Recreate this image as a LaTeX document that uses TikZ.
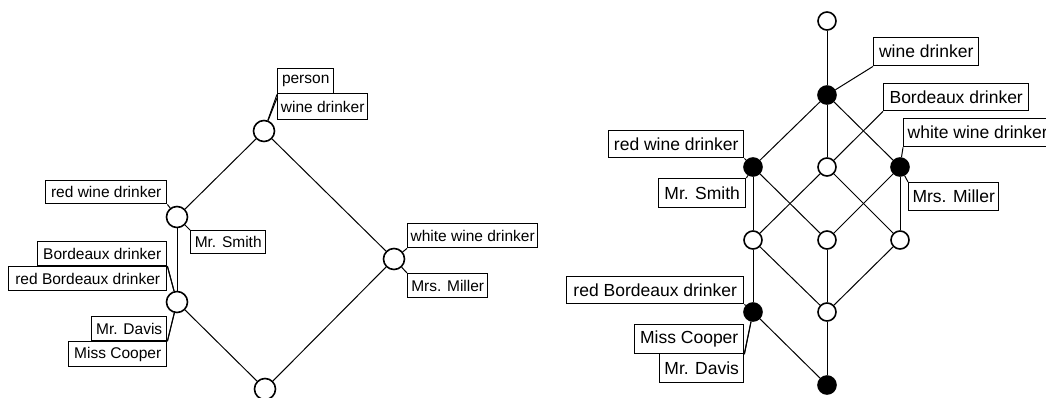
\documentclass[tikz,border=0pt]{standalone}
\usepackage{fontspec}
\setmainfont{Liberation Sans}
\begin{document}
\begin{tikzpicture}[x=1pt,y=-1pt,
  edge/.style={line width=1pt},
  lnode/.style={circle,draw,line width=1.6pt,fill=white,minimum size=21pt,inner sep=0pt},
  ropen/.style={circle,draw,line width=1.6pt,fill=white,minimum size=18pt,inner sep=0pt},
  rfull/.style={circle,draw,line width=1.6pt,fill=black,minimum size=18pt,inner sep=0pt},
  lab/.style={draw,line width=1.4pt,fill=white,anchor=north west,inner sep=0pt,
    font=\fontsize{15.5}{15.5}\selectfont},
  rlab/.style={lab,font=\fontsize{17.5}{17.5}\selectfont},
]
\useasboundingbox (0,0) rectangle (1046,397);

% ---------- left lattice ----------
\node[lnode] (lT) at (264,131) {};
\node[lnode] (lR) at (177,217) {};
\node[lnode] (lW) at (394,259) {};
\node[lnode] (lB) at (177,302) {};
\node[lnode] (lO) at (265,389) {};

\draw[edge] (lT) -- (lR);
\draw[edge] (lT) -- (lW);
\draw[edge] (lR) -- (lB);
\draw[edge] (lB) -- (lO);
\draw[edge] (lW) -- (lO);

\node[lab,minimum width=56pt,minimum height=25pt] (lperson) at (277,68) {person};
\node[lab,minimum width=90pt,minimum height=26pt] (lwd) at (277,93) {wine drinker};
\node[lab,minimum width=121pt,minimum height=23pt] (lrwd) at (45,180) {red wine drinker};
\node[lab,minimum width=75pt,minimum height=23pt] (lsmith) at (190,230) {Mr. Smith};
\node[lab,minimum width=129pt,minimum height=24pt] (lbd) at (37,241) {Bordeaux drinker};
\node[lab,minimum width=158pt,minimum height=24pt] (lrbd) at (8,266) {red Bordeaux drinker};
\node[lab,minimum width=75pt,minimum height=24pt] (ldavis) at (91,316) {Mr. Davis};
\node[lab,minimum width=98pt,minimum height=25pt] (lcooper) at (68,341) {Miss Cooper};
\node[lab,minimum width=130pt,minimum height=24pt] (lwwd) at (407,223) {white wine drinker};
\node[lab,minimum width=80pt,minimum height=24pt] (lmiller) at (407,273) {Mrs. Miller};

\draw[edge] (lT) -- (lperson.south west);
\draw[edge] (lT) -- ([yshift=-5pt]lwd.north west);
\draw[edge] (lR) -- (lrwd.south east);
\draw[edge] (lR) -- (lsmith.north west);
\draw[edge] (lB) -- (lbd.south east);
\draw[edge] (lB) -- (lrbd.north east);
\draw[edge] (lB) -- (ldavis.south east);
\draw[edge] (lB) -- (lcooper.north east);
\draw[edge] (lW) -- (lwwd.south west);
\draw[edge] (lW) -- (lmiller.north west);

% ---------- right lattice ----------
\node[ropen] (rT)   at (827,21)  {};
\node[rfull] (rWD)  at (827,95)  {};
\node[rfull] (rRW)  at (753,167) {};
\node[ropen] (rBD)  at (827,167) {};
\node[rfull] (rWW)  at (900,167) {};
\node[ropen] (rM1)  at (753,240) {};
\node[ropen] (rM2)  at (827,240) {};
\node[ropen] (rM3)  at (900,240) {};
\node[rfull] (rRB)  at (753,312) {};
\node[ropen] (rL)   at (827,312) {};
\node[rfull] (rBot) at (827,385) {};

\draw[edge] (rT) -- (rWD);
\draw[edge] (rWD) -- (rRW);
\draw[edge] (rWD) -- (rBD);
\draw[edge] (rWD) -- (rWW);
\draw[edge] (rRW) -- (rM1);
\draw[edge] (rRW) -- (rM2);
\draw[edge] (rBD) -- (rM1);
\draw[edge] (rBD) -- (rM3);
\draw[edge] (rWW) -- (rM2);
\draw[edge] (rWW) -- (rM3);
\draw[edge] (rM1) -- (rRB);
\draw[edge] (rM1) -- (rL);
\draw[edge] (rM2) -- (rL);
\draw[edge] (rM3) -- (rL);
\draw[edge] (rRB) -- (rBot);
\draw[edge] (rL) -- (rBot);

\node[rlab,minimum width=105pt,minimum height=28pt] (rwdl) at (873,37) {wine drinker};
\node[rlab,minimum width=145pt,minimum height=27pt] (rbdl) at (883,83) {Bordeaux drinker};
\node[rlab,minimum width=148pt,minimum height=28pt] (rwwdl) at (903,118) {white wine drinker};
\node[rlab,minimum width=90pt,minimum height=28pt] (rmillerl) at (908,182) {Mrs. Miller};
\node[rlab,minimum width=135pt,minimum height=27pt] (rrwdl) at (608,130) {red wine drinker};
\node[rlab,minimum width=87pt,minimum height=29pt] (rsmithl) at (658,178) {Mr. Smith};
\node[rlab,minimum width=177pt,minimum height=27pt] (rrbdl) at (566,276) {red Bordeaux drinker};
\node[rlab,minimum width=109pt,minimum height=29pt] (rcooperl) at (634,324) {Miss Cooper};
\node[rlab,minimum width=84pt,minimum height=29pt] (rdavisl) at (659,353) {Mr. Davis};

\draw[edge] (rWD) -- (rwdl.south west);
\draw[edge] (rBD) -- (rbdl.south west);
\draw[edge] (rWW) -- (rwwdl.south west);
\draw[edge] (rWW) -- (rmillerl.north west);
\draw[edge] (rRW) -- (rrwdl.south east);
\draw[edge] (rRW) -- (rsmithl.north east);
\draw[edge] (rRB) -- (rrbdl.south east);
\draw[edge] (rRB) -- (rcooperl.south east);
\draw[edge] (rRB) -- (rdavisl.north east);
\end{tikzpicture}
\end{document}
